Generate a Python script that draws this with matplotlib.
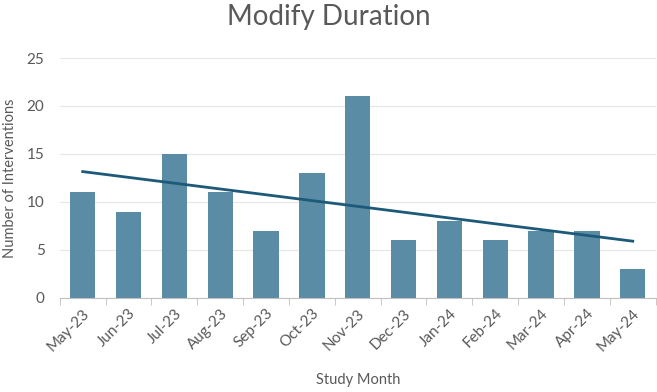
import numpy as np
import matplotlib.pyplot as plt

months = ["May-23", "Jun-23", "Jul-23", "Aug-23", "Sep-23", "Oct-23", "Nov-23",
          "Dec-23", "Jan-24", "Feb-24", "Mar-24", "Apr-24", "May-24"]
interventions = [11, 9, 15, 11, 7, 13, 21, 6, 8, 6, 7, 7, 3]

plt.rcParams["font.family"] = ["Lato", "DejaVu Sans"]
text_col = "#595959"

fig = plt.figure(figsize=(6.57, 3.92), dpi=100)
ax = fig.add_axes([0.091, 0.240, 0.907, 0.612])

x = np.arange(len(months))
ax.bar(x, interventions, width=0.55, color="#5b8ca5", zorder=2)

# linear trendline, as in the spreadsheet chart
slope, icept = np.polyfit(x, interventions, 1)
ax.plot(x, slope * x + icept, color="#1d5a7a", lw=2, zorder=3)

ax.set_xlim(-0.5, len(months) - 0.5)
ax.set_ylim(0, 25)
ax.set_yticks(range(0, 26, 5))
ax.grid(axis="y", color="#e6e6e6", lw=0.8, zorder=0)
for s in ["top", "right", "left"]:
    ax.spines[s].set_visible(False)
ax.spines["bottom"].set_color("#bfbfbf")

ax.set_xticks(x)
ax.set_xticklabels(months, rotation=45, ha="right", rotation_mode="anchor",
                   fontsize=11, color=text_col)
ax.tick_params(axis="x", length=0, pad=6)
ax.set_xticks(np.arange(-0.5, len(months), 1), minor=True)
ax.tick_params(axis="x", which="minor", length=5, color="#bfbfbf")
ax.tick_params(axis="y", length=0, labelsize=11, labelcolor=text_col, pad=11)

ax.set_xlabel("Study Month", fontsize=10.5, color=text_col, labelpad=14)
ax.set_ylabel("Number of Interventions", fontsize=10.5, color=text_col)
ax.yaxis.set_label_coords(-0.072, 0.5)
fig.suptitle("Modify Duration", fontsize=20, color=text_col, y=0.99)

fig.savefig("out.png", dpi=100)
